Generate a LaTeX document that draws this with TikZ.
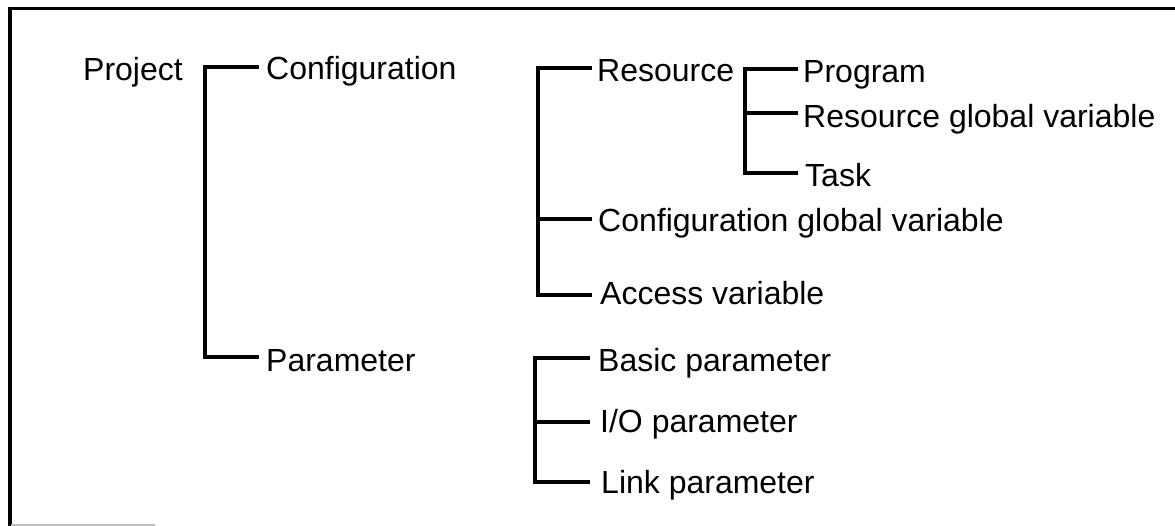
\documentclass[tikz,border=0pt]{standalone}
\usepackage{fontspec}
\setmainfont{Liberation Sans}
\begin{document}
\begin{tikzpicture}[x=1pt,y=-1pt,
  lbl/.style={anchor=base west,inner sep=0pt,font=\fontsize{32}{38}\selectfont},
  br/.style={line width=3.5pt,line join=miter},
  frame/.style={line width=3.5pt}]
\useasboundingbox (0,0) rectangle (1175,526);
% frame
\draw[frame] (10,526) -- (10,8.5) -- (1175,8.5);
\draw[gray!50,line width=2pt] (11,524.5) -- (155,524.5);
% texts
\node[lbl] (proj) at (83,81) {Project};
\node[lbl] (conf) at (266,80) {Configuration};
\node[lbl] (param) at (266,372) {Parameter};
\node[lbl] (res) at (597,82) {Resource};
\node[lbl] (prog) at (803,83) {Program};
\node[lbl] (rgv) at (803,128) {Resource global variable};
\node[lbl] (task) at (805,187) {Task};
\node[lbl] (cgv) at (598,232) {Configuration global variable};
\node[lbl] (acc) at (600,305) {Access variable};
\node[lbl] (basic) at (598,372) {Basic parameter};
\node[lbl] (io) at (600,432) {I/O parameter};
\node[lbl] (link) at (601,493) {Link parameter};
% spine coordinates
\coordinate (s1t) at (205,67);
\coordinate (s1b) at (205,357);
\coordinate (s2t) at (538,68);
\coordinate (s2m) at (538,219);
\coordinate (s2b) at (538,295);
\coordinate (s3t) at (745,69);
\coordinate (s3m) at (745,113);
\coordinate (s3b) at (745,173);
\coordinate (s4t) at (535,358);
\coordinate (s4m) at (535,422);
\coordinate (s4b) at (535,482);
% brackets
\draw[br] ([xshift=-7pt]conf.base west |- s1t) -- (s1t) -- (s1b) -- ([xshift=-7pt]param.base west |- s1b);
\draw[br] ([xshift=-5pt]res.base west |- s2t) -- (s2t) -- (s2b) -- ([xshift=-8pt]acc.base west |- s2b);
\draw[br] (s2m) -- ([xshift=-6pt]cgv.base west |- s2m);
\draw[br] ([xshift=-5pt]prog.base west |- s3t) -- (s3t) -- (s3b) -- ([xshift=-7pt]task.base west |- s3b);
\draw[br] (s3m) -- ([xshift=-5pt]rgv.base west |- s3m);
\draw[br] ([xshift=-8pt]basic.base west |- s4t) -- (s4t) -- (s4b) -- ([xshift=-11pt]link.base west |- s4b);
\draw[br] (s4m) -- ([xshift=-10pt]io.base west |- s4m);
\end{tikzpicture}
\end{document}
